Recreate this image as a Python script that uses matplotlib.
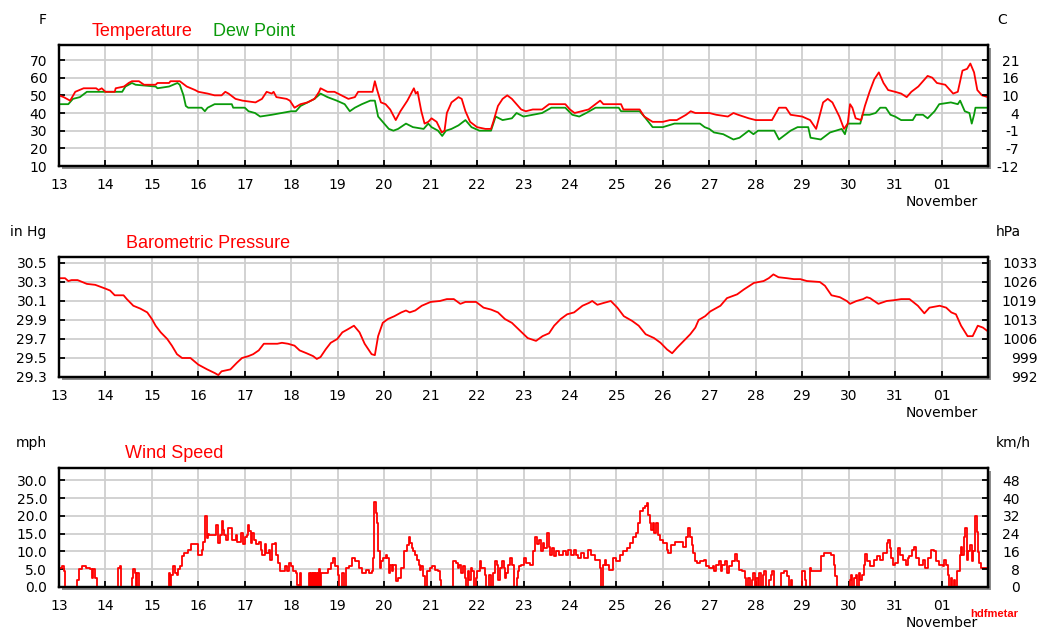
import matplotlib
matplotlib.use("Agg")
import matplotlib.pyplot as plt
from matplotlib.patches import Rectangle

# ---- data (x = day of October; 32 = 1 November) ----
temp_t = [13.00, 13.10, 13.24, 13.35, 13.53, 13.80, 13.85, 13.92, 14.00, 14.20, 14.22, 14.40, 14.50, 14.57,
          14.72, 14.83, 15.08, 15.12, 15.37, 15.40, 15.60, 15.75, 15.93, 16.00, 16.20, 16.35, 16.50, 16.58,
          16.65, 16.80, 16.95, 17.23, 17.37, 17.47, 17.58, 17.62, 17.68, 17.90, 17.97, 18.07, 18.20, 18.35,
          18.50, 18.60, 18.63, 18.78, 18.93, 19.08, 19.23, 19.37, 19.44, 19.75, 19.80, 19.85, 19.93, 20.03,
          20.13, 20.25, 20.35, 20.50, 20.64, 20.68, 20.72, 20.80, 20.87, 20.95, 21.02, 21.13, 21.24, 21.30,
          21.35, 21.45, 21.60, 21.67, 21.75, 21.85, 22.00, 22.18, 22.30, 22.35, 22.45, 22.55, 22.65, 22.75,
          22.85, 22.95, 23.05, 23.20, 23.40, 23.55, 23.90, 24.00, 24.10, 24.25, 24.40, 24.55, 24.65, 24.72,
          25.10, 25.15, 25.50, 25.60, 25.78, 26.00, 26.15, 26.30, 26.50, 26.60, 26.70, 27.00, 27.15, 27.40,
          27.52, 27.62, 27.85, 28.00, 28.35, 28.50, 28.65, 28.75, 29.00, 29.17, 29.30, 29.45, 29.55, 29.65,
          29.80, 29.90, 29.98, 30.03, 30.08, 30.15, 30.27, 30.35, 30.45, 30.55, 30.65, 30.75, 30.85, 31.00,
          31.13, 31.25, 31.35, 31.50, 31.60, 31.70, 31.80, 31.90, 32.08, 32.25, 32.35, 32.45, 32.55, 32.62,
          32.70, 32.77, 32.87, 33.00]
temp_f = [50, 49, 47, 52, 54, 54, 53, 54, 52, 52, 54, 55, 57, 58,
          58, 56, 56, 57, 57, 58, 58, 55, 53, 52, 51, 50, 50, 52,
          51, 48, 47, 46, 48, 52, 51, 52, 49, 48, 47, 43, 45, 46,
          48, 52, 54, 52, 52, 50, 48, 49, 52, 52, 58, 53, 46, 45,
          42, 36, 41, 47, 54, 51, 52, 41, 34, 35, 37, 35, 29, 30,
          40, 46, 49, 48, 41, 35, 32, 31, 31, 35, 44, 48, 50, 48,
          45, 42, 41, 42, 42, 45, 45, 42, 40, 41, 42, 45, 47, 45,
          45, 42, 42, 38, 35, 35, 36, 36, 39, 41, 40, 40, 39, 38,
          40, 39, 37, 36, 36, 43, 43, 39, 38, 36, 31, 46, 48, 46,
          38, 31, 34, 45, 43, 37, 36, 44, 52, 59, 63, 57, 53, 52,
          51, 49, 52, 55, 58, 61, 60, 57, 56, 51, 52, 64, 65, 68,
          63, 53, 50, 49]

dew_t = [13.00, 13.20, 13.30, 13.45, 13.60, 14.36, 14.43, 14.57, 14.65, 15.08, 15.12, 15.37, 15.55, 15.60,
         15.68, 15.73, 15.78, 16.07, 16.14, 16.20, 16.35, 16.72, 16.75, 17.00, 17.08, 17.22, 17.33, 17.58,
         17.79, 18.00, 18.10, 18.20, 18.35, 18.50, 18.63, 18.78, 18.98, 19.15, 19.26, 19.37, 19.52, 19.70,
         19.80, 19.87, 20.00, 20.10, 20.20, 20.30, 20.47, 20.62, 20.85, 20.95, 21.02, 21.16, 21.25, 21.33,
         21.45, 21.60, 21.75, 21.88, 22.05, 22.30, 22.40, 22.55, 22.75, 22.85, 23.00, 23.20, 23.40, 23.60,
         23.90, 24.05, 24.20, 24.35, 24.55, 25.05, 25.10, 25.50, 25.60, 25.78, 26.00, 26.25, 26.80, 26.90,
         27.00, 27.10, 27.30, 27.52, 27.65, 27.85, 27.95, 28.05, 28.40, 28.50, 28.60, 28.75, 28.90, 29.13,
         29.18, 29.40, 29.60, 29.85, 29.92, 29.98, 30.25, 30.30, 30.45, 30.58, 30.68, 30.80, 30.90, 31.00,
         31.13, 31.38, 31.45, 31.60, 31.70, 31.85, 31.95, 32.20, 32.35, 32.40, 32.50, 32.60, 32.65, 32.70,
         32.73, 33.00]
dew_f = [45, 45, 48, 49, 52, 52, 55, 57, 56, 55, 54, 55, 57, 56,
         50, 44, 43, 43, 41, 43, 45, 45, 43, 43, 41, 40, 38, 39,
         40, 41, 41, 44, 46, 48, 51, 49, 47, 45, 41, 43, 45, 47,
         47, 38, 34, 31, 30, 31, 34, 32, 31, 34, 32, 30, 27, 30,
         31, 33, 36, 32, 30, 30, 38, 36, 37, 40, 38, 39, 40, 43,
         43, 39, 38, 40, 43, 43, 41, 41, 38, 32, 32, 34, 34, 32,
         31, 29, 28, 25, 26, 30, 28, 30, 30, 25, 27, 30, 32, 32,
         26, 25, 29, 31, 28, 34, 34, 39, 39, 40, 43, 43, 39, 38,
         36, 36, 39, 39, 37, 41, 45, 46, 45, 47, 41, 40, 34, 39,
         43, 43]

baro_t = [13.00, 13.13, 13.20, 13.27, 13.40, 13.60, 13.78, 14.00, 14.10, 14.20, 14.39, 14.46, 14.60, 14.75,
          14.90, 15.00, 15.08, 15.19, 15.33, 15.43, 15.54, 15.65, 15.83, 16.00, 16.19, 16.36, 16.43, 16.50,
          16.69, 16.83, 16.94, 17.08, 17.18, 17.30, 17.41, 17.70, 17.80, 17.93, 18.07, 18.18, 18.33, 18.47,
          18.55, 18.63, 18.74, 18.85, 18.99, 19.10, 19.21, 19.35, 19.47, 19.58, 19.73, 19.80, 19.87, 19.97,
          20.08, 20.22, 20.37, 20.47, 20.55, 20.67, 20.81, 21.00, 21.20, 21.35, 21.50, 21.64, 21.75, 21.98,
          22.14, 22.30, 22.45, 22.60, 22.75, 22.94, 23.09, 23.27, 23.41, 23.55, 23.66, 23.80, 23.94, 24.09,
          24.27, 24.41, 24.48, 24.59, 24.73, 24.88, 25.02, 25.16, 25.34, 25.48, 25.63, 25.81, 25.95, 26.09,
          26.20, 26.31, 26.45, 26.59, 26.70, 26.77, 26.91, 27.02, 27.24, 27.38, 27.60, 27.74, 27.96, 28.17,
          28.28, 28.38, 28.49, 28.67, 28.82, 28.96, 29.10, 29.38, 29.49, 29.63, 29.81, 29.96, 30.03, 30.17,
          30.31, 30.39, 30.46, 30.64, 30.82, 31.00, 31.13, 31.31, 31.49, 31.63, 31.74, 31.96, 32.10, 32.21,
          32.31, 32.42, 32.56, 32.67, 32.78, 32.89, 33.00]
baro_in = [30.34, 30.34, 30.31, 30.32, 30.32, 30.28, 30.27, 30.23, 30.21, 30.16, 30.16, 30.12, 30.05, 30.02,
           29.98, 29.91, 29.84, 29.77, 29.70, 29.63, 29.54, 29.50, 29.50, 29.43, 29.38, 29.34, 29.32, 29.36,
           29.38, 29.45, 29.50, 29.52, 29.54, 29.58, 29.65, 29.65, 29.66, 29.65, 29.63, 29.58, 29.55, 29.52,
           29.49, 29.51, 29.59, 29.66, 29.70, 29.77, 29.80, 29.84, 29.77, 29.65, 29.54, 29.53, 29.73, 29.87,
           29.91, 29.94, 29.98, 30.00, 29.98, 30.00, 30.05, 30.09, 30.10, 30.12, 30.12, 30.07, 30.09, 30.09,
           30.03, 30.01, 29.98, 29.91, 29.87, 29.78, 29.71, 29.68, 29.73, 29.76, 29.84, 29.91, 29.96, 29.98,
           30.05, 30.08, 30.10, 30.06, 30.08, 30.10, 30.03, 29.94, 29.89, 29.84, 29.75, 29.71, 29.66, 29.59,
           29.55, 29.61, 29.68, 29.75, 29.82, 29.90, 29.94, 29.99, 30.05, 30.13, 30.17, 30.22, 30.29, 30.31,
           30.34, 30.38, 30.35, 30.34, 30.33, 30.33, 30.31, 30.30, 30.26, 30.16, 30.14, 30.10, 30.07, 30.10,
           30.12, 30.14, 30.13, 30.07, 30.10, 30.11, 30.12, 30.12, 30.05, 29.97, 30.03, 30.05, 30.03, 29.98,
           29.96, 29.84, 29.73, 29.73, 29.84, 29.82, 29.78]

wind_t = [13.00, 13.06, 13.10, 13.13, 13.36, 13.38, 13.42, 13.49, 13.58, 13.67, 13.70, 13.74, 13.77, 13.81,
          14.25, 14.27, 14.31, 14.33, 14.55, 14.57, 14.60, 14.63, 14.65, 14.67, 14.70, 14.73, 15.33, 15.36,
          15.39, 15.42, 15.46, 15.49, 15.53, 15.56, 15.60, 15.65, 15.70, 15.78, 15.85, 15.92, 16.00, 16.08,
          16.11, 16.15, 16.18, 16.21, 16.24, 16.35, 16.38, 16.42, 16.46, 16.50, 16.53, 16.56, 16.60, 16.64,
          16.69, 16.73, 16.80, 16.84, 16.92, 16.97, 17.00, 17.04, 17.07, 17.10, 17.13, 17.16, 17.20, 17.25,
          17.30, 17.34, 17.38, 17.43, 17.46, 17.52, 17.55, 17.59, 17.65, 17.68, 17.72, 17.75, 17.86, 17.91,
          17.96, 18.00, 18.04, 18.10, 18.13, 18.16, 18.18, 18.20, 18.36, 18.38, 18.40, 18.42, 18.44, 18.46,
          18.48, 18.50, 18.51, 18.53, 18.55, 18.57, 18.58, 18.60, 18.62, 18.64, 18.80, 18.86, 18.90, 18.95,
          19.00, 19.03, 19.10, 19.13, 19.17, 19.24, 19.31, 19.38, 19.46, 19.53, 19.60, 19.67, 19.74, 19.77,
          19.79, 19.82, 19.85, 19.87, 19.90, 19.93, 19.97, 20.03, 20.07, 20.10, 20.13, 20.17, 20.20, 20.25,
          20.30, 20.37, 20.43, 20.50, 20.53, 20.56, 20.60, 20.63, 20.67, 20.70, 20.74, 20.77, 20.80, 20.84,
          20.88, 20.93, 20.98, 21.04, 21.09, 21.15, 21.20, 21.23, 21.46, 21.48, 21.55, 21.58, 21.62, 21.66,
          21.69, 21.73, 21.76, 21.80, 21.83, 21.87, 21.90, 21.94, 21.98, 22.00, 22.06, 22.09, 22.18, 22.20,
          22.25, 22.30, 22.35, 22.39, 22.42, 22.46, 22.50, 22.53, 22.57, 22.60, 22.63, 22.67, 22.72, 22.75,
          22.79, 22.85, 22.88, 22.91, 22.95, 23.00, 23.05, 23.13, 23.20, 23.24, 23.30, 23.34, 23.38, 23.41,
          23.45, 23.50, 23.54, 23.58, 23.62, 23.66, 23.70, 23.77, 23.84, 23.91, 23.96, 24.02, 24.08, 24.13,
          24.17, 24.24, 24.31, 24.38, 24.46, 24.53, 24.60, 24.64, 24.67, 24.71, 24.75, 24.78, 24.85, 24.93,
          25.00, 25.08, 25.15, 25.22, 25.29, 25.36, 25.43, 25.47, 25.50, 25.57, 25.61, 25.65, 25.68, 25.72,
          25.75, 25.79, 25.82, 25.86, 25.90, 25.94, 26.00, 26.08, 26.11, 26.18, 26.26, 26.35, 26.43, 26.50,
          26.55, 26.58, 26.62, 26.65, 26.69, 26.74, 26.80, 26.88, 26.93, 27.00, 27.07, 27.10, 27.14, 27.20,
          27.25, 27.28, 27.34, 27.39, 27.42, 27.49, 27.55, 27.60, 27.63, 27.70, 27.77, 27.80, 27.84, 27.87,
          27.91, 27.94, 27.98, 28.01, 28.05, 28.08, 28.12, 28.15, 28.18, 28.22, 28.29, 28.33, 28.36, 28.40,
          28.47, 28.54, 28.61, 28.67, 28.72, 28.76, 28.79, 28.97, 29.00, 29.05, 29.08, 29.16, 29.19, 29.34,
          29.41, 29.48, 29.55, 29.62, 29.68, 29.71, 29.75, 30.00, 30.03, 30.05, 30.08, 30.11, 30.15, 30.18,
          30.22, 30.25, 30.29, 30.33, 30.36, 30.40, 30.47, 30.54, 30.61, 30.68, 30.75, 30.82, 30.85, 30.89,
          30.92, 30.96, 31.00, 31.06, 31.11, 31.18, 31.23, 31.28, 31.31, 31.36, 31.40, 31.45, 31.52, 31.59,
          31.64, 31.70, 31.77, 31.84, 31.87, 31.95, 32.03, 32.06, 32.09, 32.13, 32.16, 32.20, 32.23, 32.26,
          32.30, 32.33, 32.39, 32.42, 32.44, 32.49, 32.51, 32.54, 32.58, 32.61, 32.65, 32.68, 32.71, 32.74,
          32.76, 32.78, 32.80, 32.86, 32.93, 33.00]
wind_mph = [5.3, 6, 4.4, 0, 0, 2, 5, 6, 5.3, 5, 2.5, 5, 2.5, 0,
            0, 5.3, 6, 0, 0, 2.5, 5, 4, 0, 4, 4, 0, 0, 4,
            0, 3.5, 6, 4, 3.5, 5, 6, 8.6, 9.6, 10.5, 12, 12, 9, 10.5,
            12.8, 20, 13.8, 15, 14.7, 14.7, 17.5, 12.5, 14.7, 18.5, 16, 14.7, 13.3, 16.6,
            16.6, 13.3, 14.7, 12.8, 15.2, 12, 14, 14.7, 17.5, 15.7, 12.4, 15.2, 13.3, 12,
            12.8, 10.5, 9.1, 12, 9.6, 10.5, 7.7, 12, 12.4, 9.1, 6.7, 4.4, 5.8, 4.4,
            6.7, 5.8, 4.4, 4, 0.6, 0, 4, 0, 0, 4, 0, 4, 0, 4,
            0, 4, 0, 4, 0, 4, 0, 5, 0, 4, 5, 6.7, 8.2, 5.8,
            3.5, 0, 4, 0, 5.3, 5.8, 8.2, 7.2, 5.3, 4, 4.9, 4, 4.4, 8.2,
            23.8, 20.8, 18, 10, 5.3, 7.2, 8.2, 9.1, 8.2, 4, 6.3, 4.4, 6.3, 1.6,
            2.5, 5.3, 10, 11.9, 14.2, 12.4, 11, 10, 9.1, 7.7, 6.3, 4.9, 5.8, 3,
            0, 4.4, 5.3, 5.8, 4.9, 4.4, 2, 0, 0, 7.2, 6.7, 5.3, 6.3, 4,
            5.8, 2.5, 0, 4.4, 2, 5.3, 4.4, 0, 2.5, 4.4, 7.2, 5.3, 3.5, 0,
            3.5, 0, 4, 7.2, 6.3, 2, 5.3, 7.2, 5.3, 2.5, 4, 6.3, 8.2, 6.3,
            0, 2.5, 4.4, 5.8, 6.3, 8.2, 6.7, 6.3, 10, 14, 12, 13.3, 10, 12.4,
            11, 15.2, 11.4, 9.1, 11, 8.6, 10, 9.1, 10, 9.1, 10.5, 9.1, 10.5, 9.1,
            8.2, 9.6, 8.2, 10.5, 9.1, 7.7, 7.7, 5.3, 0, 6.3, 7.7, 6.3, 4.9, 8.2,
            7.2, 9.1, 10, 11, 12.4, 14.2, 15.2, 18, 21.3, 22.2, 22.7, 23.6, 20.3, 18,
            16.1, 18, 15.2, 18, 14.7, 13.3, 12.4, 10.5, 9.6, 11.9, 12.8, 12.8, 11.4, 14.2,
            16.6, 14.2, 11.9, 9.6, 7.2, 6.7, 7.2, 7.7, 5.8, 5.3, 5.8, 4.4, 6.3, 7.2,
            4.4, 6.3, 7.2, 4, 5.8, 7.2, 9.3, 7.2, 4.9, 4.6, 2.5, 0, 2.5, 0,
            2, 4, 0, 2.5, 0, 4, 0, 3.5, 4.4, 0, 2, 3.5, 4.4, 0,
            0, 4, 4.4, 3, 0, 2, 0, 0, 4.4, 2, 0, 5.3, 4.4, 4.4,
            8.6, 9.6, 9.6, 9.1, 6.3, 3, 0, 0, 2, 3.5, 0, 2.5, 3.5, 0,
            4, 2, 3.5, 6.3, 9.3, 7.2, 5.8, 7.7, 8.6, 7.7, 9.6, 12.4, 13.3, 11,
            8.2, 6.3, 6.7, 11, 9.1, 7.7, 6.3, 8.2, 8.6, 10.5, 11.4, 8.2, 6.3, 7.7,
            5.3, 8.2, 10.5, 10, 7.2, 6.3, 5.8, 7.7, 6.3, 3.5, 0, 2.5, 0, 2,
            0, 4.4, 9.1, 11.4, 9.1, 14.2, 16.6, 7.7, 10, 11.9, 7.2, 10, 20.1, 20,
            15.6, 9.8, 6.7, 5.3, 5.3, 5.8]

# ---- axis scales and labels ----
day_ticks = list(range(13, 33))
day_labels = ["13", "14", "15", "16", "17", "18", "19", "20", "21", "22", "23", "24",
              "25", "26", "27", "28", "29", "30", "31", "01"]
temp_ticks = [10, 20, 30, 40, 50, 60, 70]
celsius_labels = ["-12", "-7", "-1", "4", "10", "16", "21"]
baro_ticks = [29.3, 29.5, 29.7, 29.9, 30.1, 30.3, 30.5]
baro_labels = ["29.3", "29.5", "29.7", "29.9", "30.1", "30.3", "30.5"]
hpa_labels = ["992", "999", "1006", "1013", "1019", "1026", "1033"]
wind_ticks = [0, 5, 10, 15, 20, 25, 30]
wind_labels = ["0.0", "5.0", "10.0", "15.0", "20.0", "25.0", "30.0"]
kmh_labels = ["0", "8", "16", "24", "32", "40", "48"]

W, H = 1039, 631
RED = "#ff0000"
GREEN = "#0a9a0a"
GRID = "#cfcfcf"
TICK_FONT = {"family": "DejaVu Sans", "size": 10}

fig = plt.figure(figsize=(W / 100, H / 100), dpi=100)
fig.patch.set_facecolor("white")


def px_rect(left, top, right, bottom):
    return [left / W, 1 - bottom / H, (right - left) / W, (bottom - top) / H]


def ftext(x, y, s, **kw):
    fig.text(x / W, 1 - y / H, s, **kw)


def panel(box, ylim, yticks, ylabels, rlabels, rpad):
    ax = fig.add_axes(px_rect(*box))
    # drop shadow behind the frame
    l, t, r, b = box
    fig.add_artist(Rectangle(((l + 3) / W, 1 - (b + 3) / H), (r - l) / W, (b - t) / H,
                             transform=fig.transFigure, facecolor="#8c8c8c",
                             edgecolor="none", zorder=-5))
    ax.set_facecolor("white")
    ax.set_xlim(13, 33)
    ax.set_ylim(*ylim)
    ax.set_xticks(day_ticks)
    ax.set_xticklabels(day_labels, fontdict=TICK_FONT)
    ax.set_yticks(yticks)
    ax.set_yticklabels(ylabels, fontdict=TICK_FONT)
    ax.grid(True, color=GRID, linewidth=1.3, zorder=0)
    ax.set_axisbelow(True)
    ax.tick_params(direction="in", length=4.5, width=1.3, pad=8.5, colors="black")
    for sp in ax.spines.values():
        sp.set_linewidth(1.6)
        sp.set_color("black")
    ax.annotate("November", xy=(32, 0), xycoords=("data", "axes fraction"),
                xytext=(0, -26), textcoords="offset points", ha="center", va="center",
                fontfamily="DejaVu Sans", fontsize=10)
    ax2 = ax.twinx()
    ax2.set_ylim(*ylim)
    ax2.set_yticks(yticks)
    ax2.set_yticklabels(rlabels, fontdict=TICK_FONT, ha="right")
    ax2.tick_params(direction="in", length=4.5, width=1.3, pad=rpad, colors="black")
    for sp in ax2.spines.values():
        sp.set_linewidth(1.6)
    return ax


# Temperature / dew point
ax_t = panel((59, 45, 988, 166), (10, 78.5), temp_ticks, [str(v) for v in temp_ticks],
             celsius_labels, 22.5)
ax_t.plot(dew_t, dew_f, color=GREEN, lw=1.3, zorder=3)
ax_t.plot(temp_t, temp_f, color=RED, lw=1.3, zorder=4)

# Barometric pressure
ax_p = panel((59, 257, 988, 377), (29.3, 30.563), baro_ticks, baro_labels, hpa_labels, 35.5)
ax_p.plot(baro_t, baro_in, color=RED, lw=1.3, zorder=3)

# Wind speed
ax_w = panel((59, 468, 988, 587), (0, 33.5), wind_ticks, wind_labels, kmh_labels, 23)
ax_w.plot(wind_t, wind_mph, color=RED, lw=1.3, drawstyle="steps-post", zorder=3)

# unit labels and titles
unit = dict(fontfamily="DejaVu Sans", fontsize=10, ha="center", va="center")
ftext(43, 20, "F", **unit)
ftext(1002, 20, "C", **unit)
ftext(28, 232, "in Hg", **unit)
ftext(1008, 232, "hPa", **unit)
ftext(31, 443, "mph", **unit)
ftext(1013, 443, "km/h", **unit)

title = dict(fontfamily="Liberation Sans", fontsize=13, va="baseline", ha="left")
ftext(92, 36, "Temperature", color=RED, **title)
ftext(213, 36, "Dew Point", color=GREEN, **title)
ftext(126, 248, "Barometric Pressure", color=RED, **title)
ftext(125, 458, "Wind Speed", color=RED, **title)
ftext(970, 617, "hdfmetar", color=RED, fontfamily="Liberation Sans", fontsize=8,
      fontweight="bold", va="baseline", ha="left")

fig.savefig("out.png", dpi=100, facecolor="white")
